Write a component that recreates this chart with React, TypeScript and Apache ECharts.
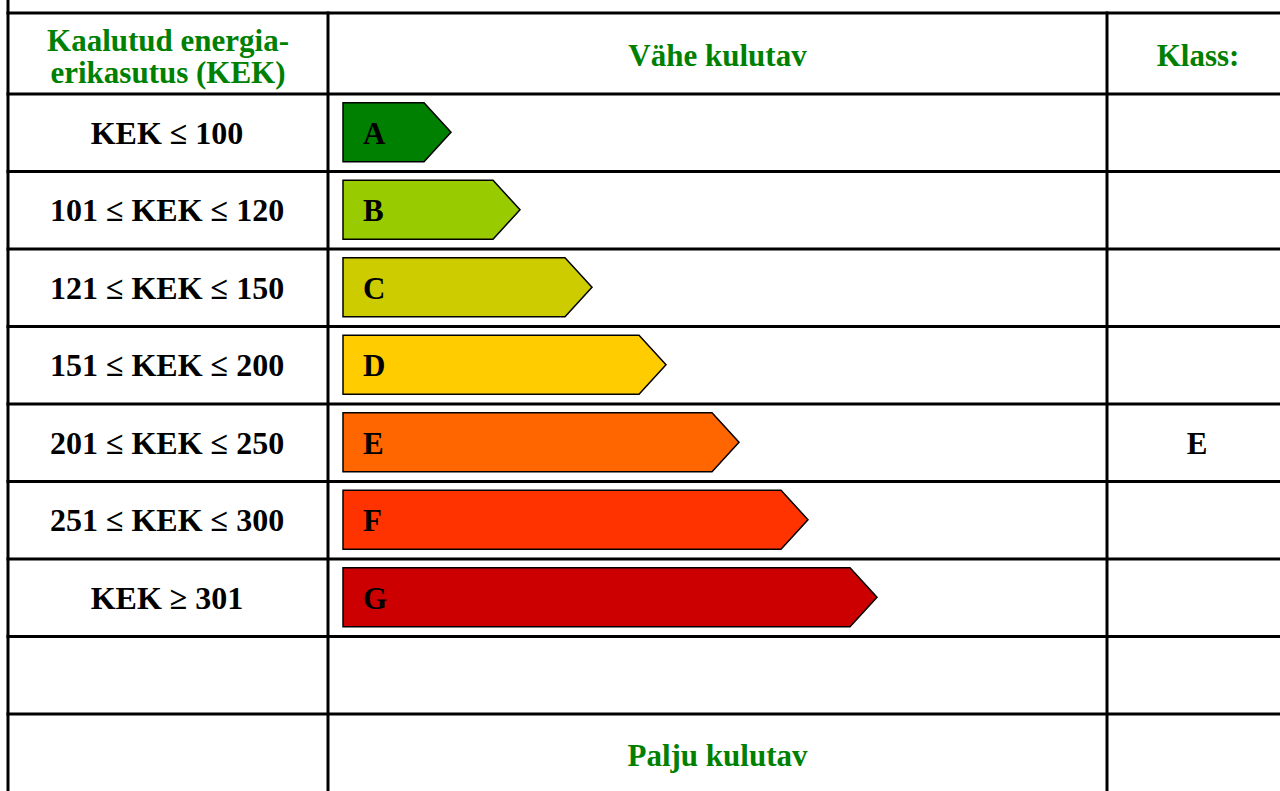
import React, { useEffect, useRef } from "react";
import * as echarts from "echarts";

const classLetters = ["A", "B", "C", "D", "E", "F", "G"];
const rangeLabels = [
  "KEK ≤ 100",
  "101 ≤ KEK ≤ 120",
  "121 ≤ KEK ≤ 150",
  "151 ≤ KEK ≤ 200",
  "201 ≤ KEK ≤ 250",
  "251 ≤ KEK ≤ 300",
  "KEK ≥ 301",
];
const arrowLengths = [108, 177, 249, 323, 396, 465, 534];
const classColors = ["#008000", "#99CC00", "#CCCC00", "#FFCC00", "#FF6600", "#FF3300", "#CC0000"];
const selectedClass = "E";
const headerLeft = "Kaalutud energia-\nerikasutus (KEK)";
const headerMiddle = "Vähe kulutav";
const headerRight = "Klass:";
const footerMiddle = "Palju kulutav";

const FONT = "'Liberation Serif', 'Times New Roman', serif";
const GREEN = "#008000";

export default function App() {
  const ref = useRef<HTMLDivElement>(null);
  useEffect(() => {
    if (!ref.current) return;
    const chart = echarts.init(ref.current, null, { renderer: "svg" });
    const W = 1280;
    const H = 791;
    const topLine = 13;
    const gridTop = 94;
    const band = 77.5;
    const gridBottomY = gridTop + band * classLetters.length;
    const gridLeft = 343;
    const col1 = 8;
    const col2 = 328;
    const col3 = 1107;
    const lineStyle = { stroke: "#000", lineWidth: 3 };

    const hLines: number[] = [topLine];
    for (let i = 0; i <= classLetters.length; i++) hLines.push(gridTop + band * i);
    hLines.push(gridBottomY + band);

    const graphics: any[] = [];
    hLines.forEach((y) =>
      graphics.push({ type: "line", silent: true, shape: { x1: col1 - 1.5, y1: y, x2: W, y2: y }, style: lineStyle })
    );
    graphics.push({ type: "line", silent: true, shape: { x1: col1, y1: 0, x2: col1, y2: H }, style: lineStyle });
    [col2, col3].forEach((x) =>
      graphics.push({ type: "line", silent: true, shape: { x1: x, y1: topLine - 1.5, x2: x, y2: H }, style: lineStyle })
    );
    const headerText = (text: string, x: number, y: number) => ({
      type: "text",
      silent: true,
      x,
      y,
      style: {
        text,
        fill: GREEN,
        font: `bold 31px ${FONT}`,
        align: "center",
        verticalAlign: "middle",
        lineHeight: 32,
      },
    });
    graphics.push(headerText(headerLeft, (col1 + col2) / 2, 56));
    graphics.push(headerText(headerMiddle, (col2 + col3) / 2, 55));
    graphics.push(headerText(headerRight, 1198, 55));
    graphics.push(headerText(footerMiddle, (col2 + col3) / 2, 755));
    const selIdx = classLetters.indexOf(selectedClass);
    graphics.push({
      type: "text",
      silent: true,
      x: 1197,
      y: gridTop + band * (selIdx + 0.5) + 1,
      style: {
        text: selectedClass,
        fill: "#000",
        font: `bold 31px ${FONT}`,
        align: "center",
        verticalAlign: "middle",
      },
    });

    chart.setOption({
      animation: false,
      grid: { left: gridLeft, right: 0, top: gridTop, bottom: H - gridBottomY },
      xAxis: { type: "value", min: 0, max: W - gridLeft, show: false },
      yAxis: {
        type: "category",
        inverse: true,
        data: rangeLabels,
        axisLine: { show: false },
        axisTick: { show: false },
        splitLine: { show: false },
        axisLabel: {
          align: "center",
          margin: gridLeft - (col1 + col2) / 2 + 1,
          fontFamily: FONT,
          fontWeight: "bold",
          fontSize: 32,
          color: "#000",
        },
      },
      series: [
        {
          type: "custom",
          encode: { x: 1, y: 0 },
          data: arrowLengths.map((v, i) => [i, v]),
          renderItem: (params: any, api: any) => {
            const i = api.value(0);
            const len = api.value(1);
            const p0 = api.coord([0, i]);
            const p1 = api.coord([len, i]);
            const bh = api.size([0, 1])[1];
            const h = bh * 0.76;
            const tipW = 27;
            const top = p0[1] - h / 2 - 0.5;
            const bot = p0[1] + h / 2 - 0.5;
            const mid = (top + bot) / 2;
            return {
              type: "group",
              children: [
                {
                  type: "polygon",
                  shape: {
                    points: [
                      [p0[0], top],
                      [p1[0] - tipW, top],
                      [p1[0], mid],
                      [p1[0] - tipW, bot],
                      [p0[0], bot],
                    ],
                  },
                  style: { fill: classColors[params.dataIndex], stroke: "#000", lineWidth: 1.5 },
                },
                {
                  type: "text",
                  x: p0[0] + 20,
                  y: mid + 1,
                  style: {
                    text: classLetters[params.dataIndex],
                    fill: "#000",
                    font: `bold 31px ${FONT}`,
                    verticalAlign: "middle",
                  },
                },
              ],
            };
          },
        },
      ],
      graphic: graphics,
    });
    return () => chart.dispose();
  }, []);
  return (
    <div
      ref={ref}
      style={{ position: "fixed", left: 0, top: 0, width: 1280, height: 791, background: "#fff" }}
    />
  );
}
